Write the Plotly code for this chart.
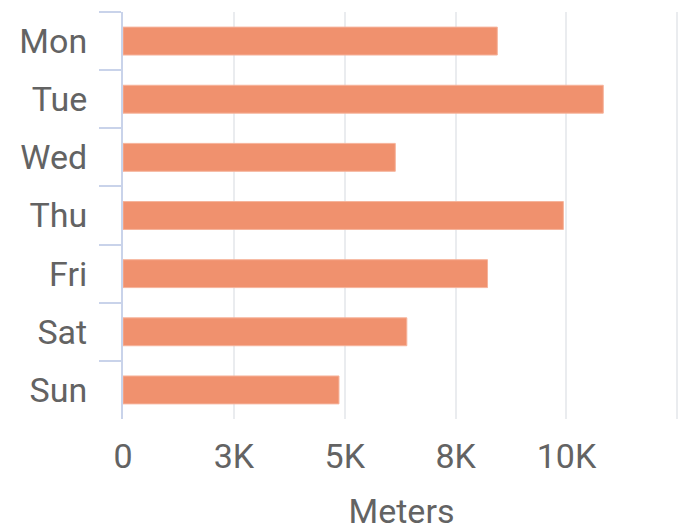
import plotly.graph_objects as go

# Distance walked per weekday
days = ["Mon", "Tue", "Wed", "Thu", "Fri", "Sat", "Sun"]
meters = [8440, 10830, 6140, 9930, 8220, 6400, 4870]

x_tick_values = [0, 2500, 5000, 7500, 10000, 12500]
x_tick_labels = ["0", "3K", "5K", "8K", "10K", ""]

text_color = "#636363"
font_family = "Roboto, Arial, sans-serif"

fig = go.Figure(
    go.Bar(
        x=meters,
        y=days,
        orientation="h",
        marker=dict(color="#f0916e", line=dict(color="#f6b39b", width=1)),
        hoverinfo="x+y",
    )
)

fig.update_layout(
    width=680,
    height=531,
    margin=dict(l=123, r=0, t=12, b=112),
    paper_bgcolor="white",
    plot_bgcolor="white",
    bargap=0.52,
    showlegend=False,
    font=dict(family=font_family, size=34, color=text_color),
)

fig.update_xaxes(
    range=[0, 12560],
    tickmode="array",
    tickvals=x_tick_values,
    ticktext=x_tick_labels,
    showgrid=True,
    gridcolor="#eaecef",
    gridwidth=2,
    zeroline=False,
    showline=False,
    ticks="",
    ticklabelstandoff=14,
    tickfont=dict(size=34, color=text_color),
    title=dict(text="Meters", font=dict(size=34, color=text_color), standoff=29),
)

fig.update_yaxes(
    autorange="reversed",
    showgrid=False,
    zeroline=False,
    showline=True,
    linecolor="#c9d3ea",
    linewidth=2,
    ticks="outside",
    tickson="boundaries",
    ticklen=22,
    tickwidth=2,
    tickcolor="#c9d3ea",
    ticklabelstandoff=27,
    tickfont=dict(size=34, color=text_color),
)

fig.write_html("out.html")
